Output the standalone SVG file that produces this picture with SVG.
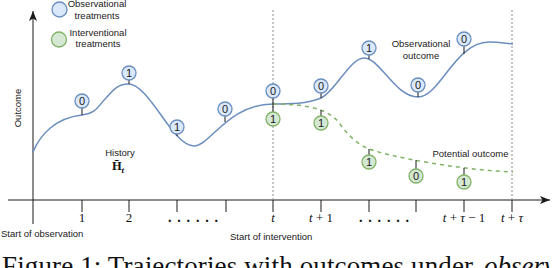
<svg xmlns="http://www.w3.org/2000/svg" width="552" height="268" viewBox="0 0 552 268">
<style>
.ax{stroke:#1a1a1a;stroke-width:1;fill:none}
.vd{stroke:#8a8a8a;stroke-width:1;stroke-dasharray:2 2;fill:none}
.obs{stroke:#6c8ebf;stroke-width:1.5;fill:none}
.pot{stroke:#82b366;stroke-width:1.5;fill:none;stroke-dasharray:4 4}
.stem{stroke:#1a1a1a;stroke-width:1}
.bm{fill:#dae8fc;stroke:#6c8ebf;stroke-width:1.3}
.gm{fill:#d5e8d4;stroke:#82b366;stroke-width:1.3}
.mt{font-family:"Liberation Sans",Arial,sans-serif;font-size:11px;text-anchor:middle;fill:#1a1a1a}
.lb{font-family:"Liberation Sans",Arial,sans-serif;font-size:9.5px;fill:#1a1a1a}
.c{text-anchor:middle}
.m{font-family:"Liberation Serif","Times New Roman",serif;font-size:13px;text-anchor:middle;fill:#111}
.dots{font-family:"Liberation Serif",serif;font-size:14px;font-weight:bold;letter-spacing:5.8px;fill:#111}
.cap{font-family:"Liberation Serif","Times New Roman",serif;font-size:27px;fill:#111}
</style>
<defs>
<marker id="arr" markerWidth="12" markerHeight="10" refX="10" refY="4" orient="auto" markerUnits="userSpaceOnUse">
<path d="M0,0 L10,4 L0,8 L2.5,4 Z" fill="#1a1a1a"/>
</marker>
</defs>

<g id="axes">
<line class="ax" x1="8" y1="200" x2="550" y2="200" marker-end="url(#arr)"/>
<line class="ax" x1="33" y1="224" x2="33" y2="11" marker-end="url(#arr)"/>
<path class="ax" d="M82,200V212M129,200V212M177,200V212M226,200V212M273,200V212M321,200V212M369,200V212M416,200V212M464,200V212M512,200V212"/>
<line class="vd" x1="273" y1="10" x2="273" y2="200"/>
<line class="vd" x1="512" y1="10" x2="512" y2="200"/>
</g>

<g id="tick-labels">
<text class="m" x="82" y="222">1</text>
<text class="m" x="129" y="222">2</text>
<text class="dots" x="168" y="222">......</text>
<text class="m" x="273" y="222" font-style="italic">t</text>
<text class="m" x="321" y="222"><tspan font-style="italic">t</tspan> + 1</text>
<text class="dots" x="359" y="222">......</text>
<text class="m" x="464" y="222"><tspan font-style="italic">t</tspan> + <tspan font-style="italic">τ</tspan> − 1</text>
<text class="m" x="512" y="222"><tspan font-style="italic">t</tspan> + <tspan font-style="italic">τ</tspan></text>
<text class="lb" x="1" y="237">Start of observation</text>
<text class="lb" x="230" y="240">Start of intervention</text>
<text class="lb c" transform="translate(20.5,108) rotate(-90)">Outcome</text>
</g>

<g id="legend">
<circle class="bm" cx="59.5" cy="9.5" r="7.5"/>
<text class="lb c" x="97" y="7">Observational</text>
<text class="lb c" x="97" y="19">treatments</text>
<circle class="gm" cx="59" cy="39.5" r="7.5"/>
<text class="lb c" x="98" y="36">Interventional</text>
<text class="lb c" x="98" y="47">treatments</text>
</g>

<g id="connectors">
<path id="observational-outcome" class="obs" d="M33,152 C40,135 55,118 82,115 C97,113 98,106 106,98 C113,90 118,84 128,84 C150,84 172,146 194,146 C210,146 228,104 273,104 C290,104 307,104 321,98 C335,92 350,58 364,58 C380,58 395,97 418,97 C440,97 455,42 489,42 C500,42 506,43.5 513,44"/>
<path id="potential-outcome" class="pot" d="M273,104 C310,104 330,110 340,124 C347,134 358,145 369,149 C391,157 460,170 513,172"/>
<path class="stem" d="M82,108V115M129,80V84M177,134V136M225,116V122M273,98V112M321,93V98M369,55V59M418,92V97M464,46V54"/>
<path class="stem" d="M321,110V116M369,149V155M416,160V169M464,168V175"/>
</g>

<g id="obs-1"><circle class="bm" cx="82" cy="101" r="7"/><text class="mt" x="82" y="105">0</text></g>
<g id="obs-2"><circle class="bm" cx="129" cy="73" r="7"/><text class="mt" x="129" y="77">1</text></g>
<g id="obs-3"><circle class="bm" cx="177" cy="127" r="7"/><text class="mt" x="177" y="131">1</text></g>
<g id="obs-4"><circle class="bm" cx="225" cy="109" r="7"/><text class="mt" x="225" y="113">0</text></g>
<g id="obs-5"><circle class="bm" cx="273" cy="91" r="7"/><text class="mt" x="273" y="95">0</text></g>
<g id="obs-6"><circle class="bm" cx="321" cy="86" r="7"/><text class="mt" x="321" y="90">0</text></g>
<g id="obs-7"><circle class="bm" cx="369" cy="48" r="7"/><text class="mt" x="369" y="52">1</text></g>
<g id="obs-8"><circle class="bm" cx="418" cy="85" r="7"/><text class="mt" x="418" y="89">0</text></g>
<g id="obs-9"><circle class="bm" cx="464" cy="39" r="7"/><text class="mt" x="464" y="43">0</text></g>

<g id="int-1"><circle class="gm" cx="273" cy="119" r="7"/><text class="mt" x="273" y="123">1</text></g>
<g id="int-2"><circle class="gm" cx="321" cy="123" r="7"/><text class="mt" x="321" y="127">1</text></g>
<g id="int-3"><circle class="gm" cx="369" cy="162" r="7"/><text class="mt" x="369" y="166">1</text></g>
<g id="int-4"><circle class="gm" cx="416" cy="176" r="7"/><text class="mt" x="416" y="180">0</text></g>
<g id="int-5"><circle class="gm" cx="464" cy="182" r="7"/><text class="mt" x="464" y="186">1</text></g>

<g id="labels">
<text class="lb c" x="120" y="156">History</text>
<text x="118" y="170" text-anchor="middle" font-family="Liberation Serif,serif" font-size="12.5" font-weight="bold" fill="#111">H&#x304;<tspan font-style="italic" font-size="9" dy="2.5">t</tspan></text>
<text class="lb c" x="421" y="47">Observational</text>
<text class="lb c" x="421" y="58.5">outcome</text>
<text class="lb c" x="470.5" y="157">Potential outcome</text>
</g>

<g id="caption">
<text class="cap" x="2" y="275" textLength="471">Figure 1: Trajectories with outcomes under</text>
<text class="cap" x="484" y="275" font-style="italic">observ</text>
</g>
</svg>
